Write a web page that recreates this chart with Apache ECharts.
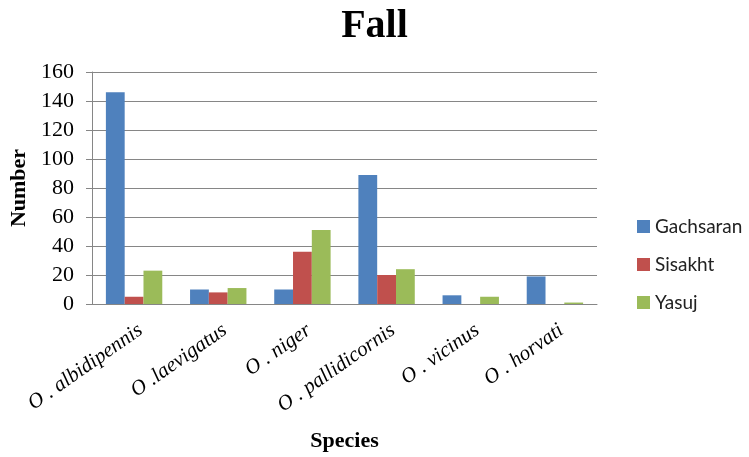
<!DOCTYPE html>
<html><head><meta charset="utf-8">
<script src="https://cdn.jsdelivr.net/npm/echarts@6/dist/echarts.min.js"></script>
<style>html,body{margin:0;padding:0;background:#fff}#c{width:749px;height:457px}</style>
</head><body><div id="c"></div>
<script>
const categories = ["O . albidipennis", "O .laevigatus", "O . niger", "O . pallidicornis", "O . vicinus", "O . horvati"];
const gachsaran = [146, 10, 10, 89, 6, 19];
const sisakht = [5, 8, 36, 20, 0, 0];
const yasuj = [23, 11, 51, 24, 5, 1];
const yTicks = [0, 20, 40, 60, 80, 100, 120, 140, 160];

const chart = echarts.init(document.getElementById('c'));
const serif = '"Liberation Serif", "DejaVu Serif", serif';
const mk = (name, data, color) => ({
  name, type: 'bar', data, itemStyle: {color},
  barGap: '0%', barCategoryGap: '33%'
});
chart.setOption({
  animation: false,
  title: {text: 'Fall', left: 'center', top: 2,
    textStyle: {fontFamily: serif, fontWeight: 'bold', fontSize: 40, color: '#000'}},
  legend: {orient: 'vertical', left: 637, top: 217, padding: 0, itemGap: 19, itemWidth: 13, itemHeight: 13,
    icon: 'rect',
    textStyle: {fontFamily: 'Lato, "Open Sans", sans-serif', fontSize: 19, color: '#222'}},
  grid: {left: 92, right: 152, top: 72, bottom: 151, containLabel: false},
  xAxis: {type: 'category', data: categories,
    name: 'Species', nameLocation: 'middle', nameGap: 126,
    nameTextStyle: {fontFamily: serif, fontWeight: 'bold', fontSize: 22, color: '#000'},
    axisLine: {lineStyle: {color: '#868686'}},
    axisTick: {show: false},
    axisLabel: {rotate: 35, margin: 29, padding: [0, -8, 0, 0], fontFamily: serif, fontStyle: 'italic', fontSize: 21, color: '#000'}
  },
  yAxis: {type: 'value', min: 0, max: 160, interval: 20,
    name: 'Number', nameLocation: 'middle', nameGap: 60, nameRotate: 90,
    nameTextStyle: {fontFamily: serif, fontWeight: 'bold', fontSize: 22, color: '#000'},
    axisLine: {show: true, lineStyle: {color: '#868686'}},
    axisTick: {show: true, length: 6, lineStyle: {color: '#868686'}},
    splitLine: {lineStyle: {color: '#868686'}},
    axisLabel: {margin: 18, fontFamily: serif, fontSize: 22, color: '#000',
      formatter: v => yTicks.includes(v) ? String(v) : ''}
  },
  series: [mk('Gachsaran', gachsaran, '#4F81BD'), mk('Sisakht', sisakht, '#C0504D'), mk('Yasuj', yasuj, '#9BBB59')]
});
</script></body></html>
